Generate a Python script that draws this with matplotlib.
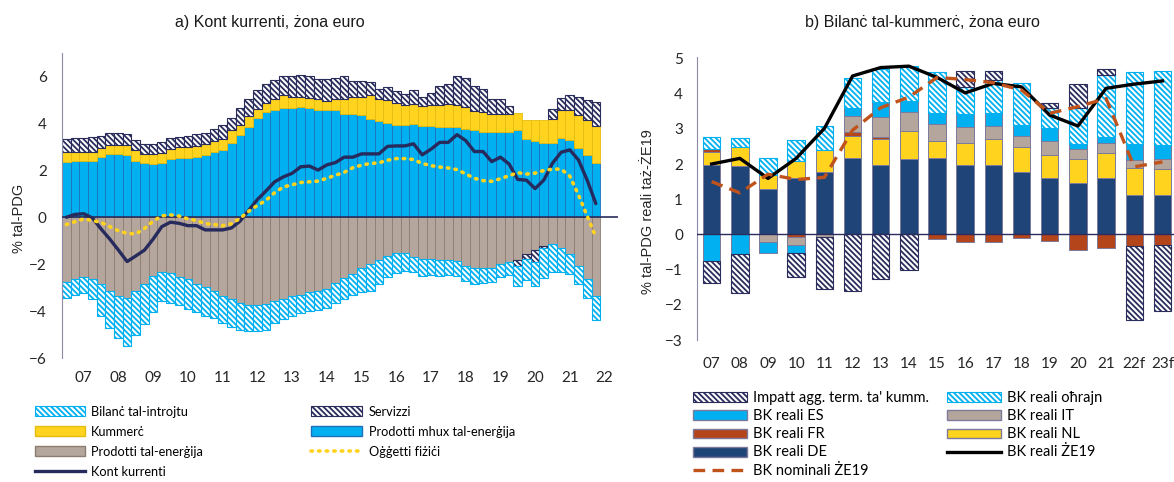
import numpy as np
import matplotlib
matplotlib.use('Agg')
import matplotlib.pyplot as plt
from matplotlib.patches import Patch
from matplotlib.lines import Line2D

# ---- a) Kont kurrenti, quarterly bars (62 quarters, labels 07..22)
year_labels_a = ['07', '08', '09', '10', '11', '12', '13', '14',
                 '15', '16', '17', '18', '19', '20', '21', '22']

non_energy = [2.37, 2.41, 2.41, 2.41, 2.58, 2.70, 2.70, 2.66, 2.41, 2.30,
              2.25, 2.30, 2.47, 2.53, 2.53, 2.58, 2.66, 2.76, 2.87, 3.16,
              3.52, 3.85, 4.23, 4.48, 4.56, 4.64, 4.64, 4.68, 4.64, 4.59,
              4.56, 4.57, 4.42, 4.38, 4.34, 4.19, 4.09, 4.02, 3.95, 3.95,
              3.99, 3.90, 3.90, 3.85, 3.85, 3.85, 3.76, 3.71, 3.62, 3.62,
              3.62, 3.62, 3.71, 3.33, 3.23, 3.16, 3.16, 3.37, 3.30, 2.94,
              2.66, 2.30]
energy = [-2.77, -2.62, -2.55, -2.62, -2.84, -3.13, -3.37, -3.44, -3.16, -2.84,
          -2.51, -2.32, -2.37, -2.55, -2.65, -2.84, -2.98, -3.16, -3.34, -3.49,
          -3.66, -3.73, -3.73, -3.70, -3.59, -3.49, -3.37, -3.30, -3.20, -3.13,
          -3.04, -2.80, -2.58, -2.41, -2.18, -1.98, -1.84, -1.65, -1.53, -1.51,
          -1.69, -1.76, -1.76, -1.81, -1.81, -1.86, -2.08, -2.15, -2.15, -2.15,
          -2.01, -1.91, -1.84, -1.55, -1.40, -1.22, -1.15, -1.33, -1.58, -2.08,
          -2.65, -3.34]
trade = [0.39, 0.39, 0.39, 0.39, 0.36, 0.39, 0.39, 0.43, 0.46, 0.40,
         0.45, 0.43, 0.43, 0.46, 0.46, 0.46, 0.47, 0.47, 0.46, 0.57,
         0.43, 0.46, 0.39, 0.37, 0.46, 0.56, 0.50, 0.46, 0.44, 0.46,
         0.39, 0.45, 0.63, 0.76, 0.80, 1.01, 0.93, 0.96, 0.93, 0.82,
         0.82, 0.84, 0.87, 0.92, 0.96, 0.92, 0.93, 0.81, 0.86, 0.76,
         0.76, 0.80, 0.74, 0.83, 0.93, 1.00, 1.03, 1.18, 1.25, 1.41,
         1.50, 1.60]
services = [0.57, 0.56, 0.56, 0.62, 0.53, 0.48, 0.48, 0.44, 0.43, 0.43,
            0.43, 0.46, 0.46, 0.43, 0.46, 0.49, 0.46, 0.53, 0.60, 0.49,
            0.69, 0.71, 0.81, 0.81, 0.82, 0.80, 0.86, 0.92, 0.92, 0.86,
            0.96, 0.91, 0.95, 0.67, 0.67, 0.57, 0.46, 0.55, 0.50, 0.50,
            0.62, 0.40, 0.54, 0.83, 0.86, 1.23, 1.24, 1.08, 1.00, 0.67,
            0.67, 0.32, -0.24, -0.24, -0.51, -0.11, 0.43, 0.53, 0.65, 0.79,
            0.82, 1.01]
income = [-0.67, -0.68, -0.68, -0.87, -1.39, -1.60, -1.77, -2.04, -1.86, -1.72,
          -1.53, -1.27, -1.29, -1.18, -1.25, -1.18, -1.25, -1.14, -1.18, -1.17,
          -1.15, -1.12, -1.12, -1.11, -0.93, -0.84, -0.86, -0.79, -0.79, -0.81,
          -0.83, -0.86, -0.89, -0.89, -1.00, -1.15, -1.00, -0.90, -0.84, -0.78,
          -0.63, -0.75, -0.71, -0.69, -0.66, -0.64, -0.64, -0.69, -0.65, -0.60,
          -0.54, -0.56, -0.83, -0.89, -1.00, -1.28, -1.17, -0.99, -0.86, -0.76,
          -0.79, -1.04]
current_account = [0.00, 0.12, 0.15, -0.03, -0.50, -0.93, -1.40, -1.89, -1.65, -1.40,
                   -0.93, -0.40, -0.21, -0.26, -0.36, -0.36, -0.54, -0.54, -0.54, -0.46,
                   -0.17, 0.29, 0.75, 1.12, 1.51, 1.72, 1.87, 2.15, 2.18, 2.01,
                   2.23, 2.33, 2.56, 2.56, 2.70, 2.70, 2.70, 3.02, 3.04, 3.04,
                   3.13, 2.66, 2.90, 3.19, 3.19, 3.52, 3.27, 2.80, 2.80, 2.37,
                   2.56, 2.27, 1.61, 1.58, 1.22, 1.58, 2.30, 2.77, 2.87, 2.44,
                   1.58, 0.58]
physical_goods = [-0.31, -0.19, -0.07, -0.14, -0.22, -0.40, -0.58, -0.69, -0.71, -0.48,
                  -0.17, 0.06, 0.10, 0.05, -0.07, -0.14, -0.27, -0.31, -0.36, -0.28,
                  -0.05, 0.25, 0.50, 0.72, 1.05, 1.29, 1.38, 1.48, 1.51, 1.54,
                  1.66, 1.79, 1.91, 2.11, 2.22, 2.29, 2.32, 2.43, 2.50, 2.50,
                  2.46, 2.29, 2.20, 2.14, 2.10, 2.03, 1.85, 1.66, 1.56, 1.53,
                  1.64, 1.77, 1.90, 1.84, 1.88, 1.99, 2.05, 2.05, 1.75, 0.95,
                  0.05, -0.85]

# ---- b) Bilanc tal-kummerc, annual
cats_b = ['07', '08', '09', '10', '11', '12', '13', '14', '15', '16',
          '17', '18', '19', '20', '21', '22f', '23f']
real_de = [1.97, 1.94, 1.29, 1.61, 1.78, 2.16, 1.97, 2.13, 2.16, 1.97,
           1.97, 1.78, 1.59, 1.45, 1.59, 1.12, 1.12]
real_nl = [0.38, 0.53, 0.39, 0.48, 0.61, 0.64, 0.73, 0.80, 0.50, 0.64,
           0.73, 0.69, 0.66, 0.68, 0.73, 0.77, 0.75]
real_fr = [0.09, 0.00, 0.00, -0.07, 0.00, 0.12, 0.07, 0.00, -0.13, -0.22,
           -0.22, -0.11, -0.18, -0.45, -0.40, -0.33, -0.30]
real_it = [0.00, 0.00, -0.21, -0.23, -0.07, 0.44, 0.57, 0.55, 0.49, 0.43,
           0.38, 0.33, 0.41, 0.29, 0.29, 0.22, 0.26]
real_es = [-0.76, -0.56, -0.33, -0.24, 0.00, 0.24, 0.43, 0.32, 0.31, 0.38,
           0.38, 0.32, 0.35, 0.14, 0.16, 0.47, 0.41]
real_other = [0.33, 0.28, 0.48, 0.59, 0.69, 0.85, 0.92, 0.98, 1.16, 0.77,
              0.94, 1.19, 0.57, 1.02, 1.76, 2.02, 2.11]
tot_impact = [-0.63, -1.10, 0.00, -0.68, -1.47, -1.60, -1.27, -1.00, 0.00, 0.45,
              0.24, 0.00, 0.16, 0.69, 0.16, -2.11, -1.87]
real_ea = [2.00, 2.16, 1.59, 2.16, 3.01, 4.50, 4.74, 4.78, 4.46, 4.02,
           4.29, 4.19, 3.39, 3.08, 4.15, 4.27, 4.36]
nominal_ea = [1.50, 1.18, 1.71, 1.56, 1.62, 2.96, 3.60, 3.90, 4.46, 4.40,
              4.31, 4.10, 3.44, 3.63, 3.86, 1.92, 2.06]

TXT = ['Lato', 'DejaVu Sans']
HEAD = ['Liberation Sans', 'DejaVu Sans']
plt.rcParams['hatch.linewidth'] = 1.3
HATCH = '\\' * 6

NAVY = '#2A2D5C'
CYAN = '#00B0F0'
YELLOW = '#FFD31E'
TAUPE = '#B4A69C'


def stacked(ax, x, series, styles, width):
    pos = np.zeros(len(x))
    neg = np.zeros(len(x))
    for vals, st in zip(series, styles):
        v = np.asarray(vals, dtype=float)
        base = np.where(v >= 0, pos, neg)
        keep = v != 0
        ax.bar(x[keep], v[keep], width, bottom=base[keep], **st)
        pos += np.where(v > 0, v, 0)
        neg += np.where(v < 0, v, 0)


fig = plt.figure(figsize=(11.74, 4.82), dpi=100)

# ---------------- panel a
ax1 = fig.add_axes([62 / 1174, 1 - 358 / 482, (618 - 62) / 1174, (358 - 53) / 482])
xa = np.arange(len(non_energy))
styles_a = [
    dict(color=CYAN, edgecolor='#1F6FB8', linewidth=0.6),
    dict(color=TAUPE, edgecolor='#8C7C71', linewidth=0.6),
    dict(color=YELLOW, edgecolor='#E5BC10', linewidth=0.6),
    dict(facecolor='white', edgecolor=NAVY, hatch=HATCH, linewidth=0.8),
    dict(facecolor='white', edgecolor=CYAN, hatch=HATCH, linewidth=0.8),
]
stacked(ax1, xa, [non_energy, energy, trade, services, income], styles_a, 1.0)
ax1.axhline(0, color=NAVY, lw=1.2, zorder=4)
ax1.plot(xa, current_account, color='#262A5C', lw=2.4, solid_joinstyle='round',
         solid_capstyle='round', zorder=5)
ax1.plot(xa, physical_goods, color=YELLOW, lw=2.6, linestyle=(0, (0.4, 1.7)),
         dash_capstyle='round', zorder=5)

ax1.set_xlim(-0.5, 63.55)
ax1.set_ylim(-6, 7)
ax1.set_yticks([-6, -4, -2, 0, 2, 4, 6])
ax1.set_xticks([2 + 4 * k for k in range(len(year_labels_a))])
ax1.set_xticklabels(year_labels_a)

# ---------------- panel b
ax2 = fig.add_axes([697 / 1174, 1 - 340 / 482, (1174 - 697) / 1174, (340 - 57) / 482])
xb = np.arange(len(cats_b))
solid_edge = '#7C7A9C'
styles_b = [
    dict(color='#1F4478', edgecolor=solid_edge, linewidth=0.7),
    dict(color=YELLOW, edgecolor=solid_edge, linewidth=0.7),
    dict(color='#B4441A', edgecolor=solid_edge, linewidth=0.7),
    dict(color=TAUPE, edgecolor=solid_edge, linewidth=0.7),
    dict(color=CYAN, edgecolor=solid_edge, linewidth=0.7),
    dict(facecolor='white', edgecolor=CYAN, hatch=HATCH, linewidth=0.8),
    dict(facecolor='white', edgecolor=NAVY, hatch=HATCH, linewidth=0.8),
]
stacked(ax2, xb, [real_de, real_nl, real_fr, real_it, real_es, real_other, tot_impact],
        styles_b, 0.62)
ax2.axhline(0, color=NAVY, lw=1.0, zorder=4)
ax2.plot(xb, real_ea, color='black', lw=2.4, zorder=5)
ax2.plot(xb, nominal_ea, color='#C0531C', lw=2.4, linestyle=(0, (3.5, 2.2)), zorder=5)

ax2.set_xlim(-0.52, 16.41)
ax2.set_ylim(-3, 5.04)
ax2.set_yticks(range(-3, 6))
ax2.set_xticks(xb)
ax2.set_xticklabels(cats_b)

for ax, xpad, ypad in ((ax1, 9, 11), (ax2, 12, 10)):
    for side in ('top', 'right', 'bottom'):
        ax.spines[side].set_visible(False)
    ax.spines['left'].set_color('#8A8AA8')
    ax.tick_params(axis='both', length=0, labelsize=11, colors='#262626')
    ax.tick_params(axis='x', pad=xpad)
    ax.tick_params(axis='y', pad=ypad)
    for lab in ax.get_xticklabels() + ax.get_yticklabels():
        lab.set_family(TXT)

fig.text(270 / 1174, 1 - 22 / 482, 'a) Kont kurrenti, żona euro', ha='center', va='center',
         fontsize=11.5, family=HEAD, color='#1a1a1a')
fig.text(922 / 1174, 1 - 22 / 482, 'b) Bilanċ tal-kummerċ, żona euro', ha='center', va='center',
         fontsize=11.5, family=HEAD, color='#1a1a1a')
fig.text(19 / 1174, 1 - 218 / 482, '% tal-PDG', rotation=90, ha='center', va='center',
         fontsize=10.5, family=HEAD, color='#262626')
fig.text(648 / 1174, 1 - 212 / 482, '% tal-PDG reali taż-ŻE19', rotation=90, ha='center',
         va='center', fontsize=10.5, family=HEAD, color='#262626')

# ---------------- legends
def hatch_patch(col, label):
    return Patch(facecolor='white', edgecolor=col, hatch=HATCH, linewidth=0.8, label=label)


leg_a1 = [hatch_patch(CYAN, 'Bilanċ tal-introjtu'),
          Patch(facecolor=YELLOW, edgecolor='#E5BC10', label='Kummerċ'),
          Patch(facecolor=TAUPE, edgecolor='#8C7C71', label='Prodotti tal-enerġija'),
          Line2D([], [], color='#262A5C', lw=2.4, label='Kont kurrenti')]
leg_a2 = [hatch_patch(NAVY, 'Servizzi'),
          Patch(facecolor=CYAN, edgecolor='#1F6FB8', label='Prodotti mhux tal-enerġija'),
          Line2D([], [], color=YELLOW, lw=2.6, linestyle=(0, (0.4, 1.7)),
                 dash_capstyle='round', label='Oġġetti fiżiċi')]
leg_b1 = [hatch_patch(NAVY, "Impatt agg. term. ta' kumm."),
          Patch(facecolor=CYAN, edgecolor=solid_edge, label='BK reali ES'),
          Patch(facecolor='#B4441A', edgecolor=solid_edge, label='BK reali FR'),
          Patch(facecolor='#1F4478', edgecolor=solid_edge, label='BK reali DE'),
          Line2D([], [], color='#C0531C', lw=2.4, linestyle=(0, (3.5, 2.2)),
                 label='BK nominali ŻE19')]
leg_b2 = [hatch_patch(CYAN, 'BK reali oħrajn'),
          Patch(facecolor=TAUPE, edgecolor=solid_edge, label='BK reali IT'),
          Patch(facecolor=YELLOW, edgecolor=solid_edge, label='BK reali NL'),
          Line2D([], [], color='black', lw=2.4, label='BK reali ŻE19')]

common = dict(loc='upper left', frameon=False, borderpad=0, borderaxespad=0,
              prop={'family': TXT})
for handles, x0, y0, fs, hl, sp in ((leg_a1, 35, 406, 9.2, 3.6, 0.58),
                                    (leg_a2, 311, 406, 9.2, 3.7, 0.58),
                                    (leg_b1, 693, 391, 10.5, 3.9, 0.3),
                                    (leg_b2, 947, 391, 10.5, 3.9, 0.3)):
    lg = fig.legend(handles=handles, bbox_to_anchor=(x0 / 1174, 1 - y0 / 482),
                    handlelength=hl, handleheight=0.7, handletextpad=0.45,
                    labelspacing=sp, **common)
    for t in lg.get_texts():
        t.set_fontsize(fs)

fig.savefig('out.png', dpi=100)
